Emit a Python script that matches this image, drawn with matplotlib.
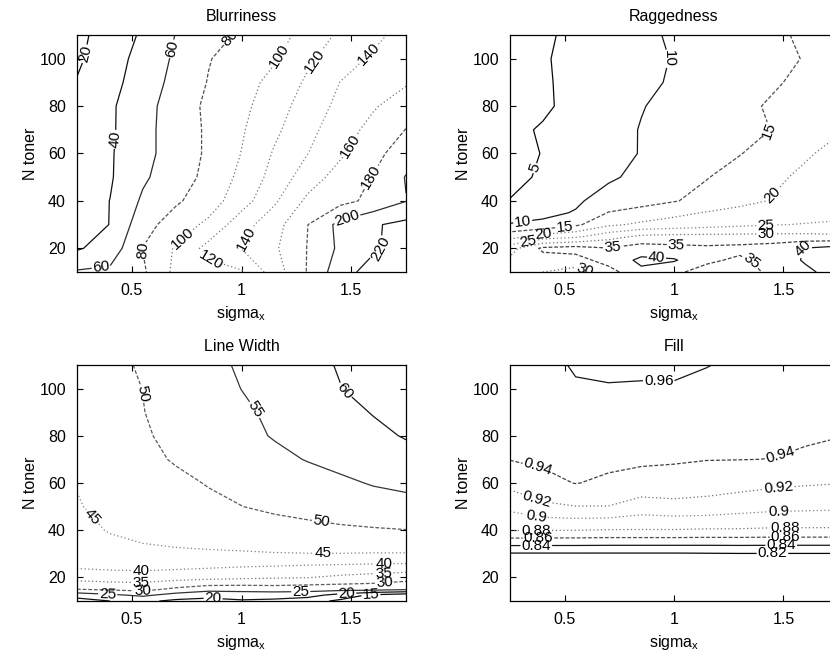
import numpy as np
import matplotlib
matplotlib.use('Agg')
import matplotlib.pyplot as plt

plt.rcParams['font.family'] = ['Liberation Sans', 'DejaVu Sans']
plt.rcParams['mathtext.default'] = 'regular'

# grid of the simulation: sigma_x columns, N toner rows
sigma_x = [0.25, 0.40, 0.55, 0.70, 0.85, 1.00, 1.15, 1.30, 1.45, 1.60, 1.75]

n_blur = [10, 20, 30, 40, 50, 60, 70, 80, 90, 100, 110]
blurriness = [
    [62, 64, 77, 105, 112, 118, 150, 181, 212, 228, 235],
    [38, 48, 80.5, 102, 127, 140.5, 157, 180.5, 204, 217, 230],
    [32, 40.3, 72, 90, 104, 132, 152, 179.5, 206, 218, 225],
    [30, 40.2, 63, 77, 91, 111, 137, 164, 174, 185, 199.5],
    [28, 38, 57, 71, 85, 105, 127, 150, 168, 181, 201],
    [27, 38, 54, 69, 83, 100.5, 122, 139.5, 157, 173, 192],
    [26, 37, 54, 69, 83, 98, 116, 134, 151, 166, 180.5],
    [24, 37, 53, 69, 84, 95, 111, 129, 145, 158, 170],
    [21, 34, 49, 66, 81, 92, 106, 123, 140.3, 149, 158],
    [17, 31, 47, 63, 79, 89, 98, 116, 131, 143, 153],
    [16, 27, 43, 60.5, 72, 83, 93, 106, 124, 135, 147],
]
blur_levels = [20, 40, 60, 80, 100, 120, 140, 160, 180, 200, 220]

n_rag = [10, 15, 20, 25, 30, 35, 40, 50, 60, 70, 80, 90, 100, 110]
raggedness = [
    [32, 30, 28, 33, 39, 36, 33, 33, 36, 39, 42],
    [31, 33, 33, 37, 41, 40.5, 36, 34, 37, 40.5, 43],
    [28, 36, 37, 35.2, 37.5, 36.5, 36, 36.5, 37.5, 40.2, 42],
    [18, 22, 24, 28, 31, 31.5, 31.5, 31.5, 31.5, 31.5, 31],
    [10.3, 11, 14, 19, 21, 22, 23, 24, 24.8, 25.2, 25.5],
    [7.5, 8.9, 10.3, 15.2, 16.5, 18.8, 20.3, 21.5, 22.5, 23.3, 24],
    [5.1, 7.1, 9.3, 12, 13.5, 14.7, 16.6, 18.6, 20.3, 21.5, 23],
    [4.2, 5.4, 7.4, 9.3, 11.2, 13, 14.8, 16.9, 19, 21, 23],
    [4, 5.1, 6.8, 8.5, 10.2, 12, 13.2, 14.8, 17, 19.4, 21.5],
    [4, 5.4, 7, 8.4, 10.2, 11.3, 12.5, 13.8, 15.1, 17.5, 19.5],
    [3.5, 4.3, 6.3, 8, 9.8, 11.2, 12.6, 14, 15.5, 17, 18.5],
    [3.5, 4.5, 6.1, 7.5, 9, 10.5, 11.8, 13.2, 14.5, 16, 17.5],
    [3.5, 4.6, 6.2, 7.6, 8.9, 10.2, 11.4, 12.7, 13.9, 15.2, 17],
    [3, 4.3, 6, 7.5, 9, 10.6, 12, 13, 14.3, 15.6, 17],
]
rag_levels = [5, 10, 15, 20, 25, 30, 35, 40]

n_width = [10, 12.5, 15, 20, 25, 30, 40, 50, 60, 70, 80, 90, 100, 110]
line_width = [
    [18, 20, 21, 19, 19, 19.5, 19, 17, 14, 11, 10],
    [22, 24, 26, 23, 21, 22, 22, 22, 18, 14, 12],
    [30, 31, 31.6, 29, 27, 27, 27.5, 27, 27, 27, 26],
    [37, 37.5, 37.6, 37, 36.5, 36, 35.5, 35.2, 34, 33, 32],
    [41, 41.5, 41.8, 41.5, 41, 40.5, 40.2, 39.8, 39.5, 39.2, 39],
    [43, 43.8, 44.2, 44.4, 44.5, 44.6, 44.8, 44.9, 44.9, 44.8, 44.8],
    [44, 45.2, 46, 46.6, 47.2, 47.8, 48.3, 48.8, 49.3, 49.6, 49.9],
    [44.7, 46.2, 47.3, 48.3, 49.2, 49.95, 50.8, 51.5, 52.2, 53, 53.5],
    [45.2, 46.7, 48, 49.2, 50.2, 51.1, 52.1, 53.1, 54.2, 55.3, 56],
    [46.3, 47.8, 49.1, 50.3, 51.6, 52.7, 53.9, 55.2, 56.3, 57.4, 58.5],
    [46.5, 48, 49.5, 51.1, 52.4, 53.8, 55.3, 56.5, 57.7, 59, 60.3],
    [46.5, 48.3, 49.9, 51.4, 52.8, 54.3, 55.8, 57.2, 58.7, 60.2, 61.5],
    [46.5, 48.3, 50.05, 51.6, 53.3, 55.05, 56.6, 58.2, 59.9, 61.3, 62.5],
    [47, 48.8, 50.5, 52.2, 53.9, 55.5, 57.2, 58.8, 60.3, 61.5, 62.5],
]
width_levels = [15, 20, 25, 30, 35, 40, 45, 50, 55, 60]

n_fill = [10, 20, 30, 40, 50, 60, 70, 80, 90, 100, 110]
fill = [
    [0.800, 0.800, 0.801, 0.801, 0.802, 0.802, 0.803, 0.803, 0.804, 0.804, 0.804],
    [0.802, 0.802, 0.803, 0.803, 0.804, 0.804, 0.805, 0.806, 0.806, 0.806, 0.806],
    [0.818, 0.818, 0.818, 0.818, 0.818, 0.818, 0.8185, 0.819, 0.819, 0.819, 0.819],
    [0.881, 0.8805, 0.8802, 0.879, 0.879, 0.879, 0.878, 0.878, 0.877, 0.877, 0.877],
    [0.905, 0.916, 0.9195, 0.9195, 0.911, 0.914, 0.913, 0.909, 0.906, 0.905, 0.904],
    [0.926, 0.935, 0.9405, 0.937, 0.933, 0.932, 0.929, 0.927, 0.924, 0.922, 0.9205],
    [0.9405, 0.943, 0.944, 0.944, 0.943, 0.942, 0.9405, 0.9402, 0.9398, 0.9375, 0.935],
    [0.946, 0.947, 0.948, 0.948, 0.948, 0.947, 0.946, 0.945, 0.944, 0.942, 0.9405],
    [0.949, 0.950, 0.952, 0.953, 0.953, 0.952, 0.951, 0.950, 0.949, 0.948, 0.947],
    [0.952, 0.954, 0.959, 0.959, 0.9585, 0.9585, 0.956, 0.954, 0.953, 0.952, 0.952],
    [0.955, 0.957, 0.961, 0.963, 0.963, 0.963, 0.9605, 0.957, 0.956, 0.955, 0.955],
]
fill_levels = [0.82, 0.84, 0.86, 0.88, 0.90, 0.92, 0.94, 0.96]

# where clabel put the numbers in the original figure (sigma_x, N toner)
blur_label_at = [(0.34, 101), (0.69, 104), (0.97, 107), (1.21, 99), (1.33, 99),
                 (1.58, 102), (0.42, 66), (1.50, 63), (1.59, 50), (1.48, 33),
                 (1.63, 20), (0.36, 12), (0.55, 19), (0.74, 23), (0.86, 15),
                 (1.04, 23)]
rag_label_at = [(0.39, 53), (0.98, 100), (1.45, 68), (1.48, 40), (0.31, 30),
                (0.40, 26.5), (0.50, 29), (0.33, 23.5), (0.72, 19), (0.60, 13),
                (0.92, 16), (1.01, 21), (1.42, 28), (1.42, 24.5), (1.36, 15),
                (1.58, 20)]
width_label_at = [(0.55, 98), (1.06, 91), (1.47, 99), (0.30, 44), (1.36, 41.5),
                  (1.37, 30), (0.54, 22), (0.54, 17.5), (0.55, 14), (0.39, 12.6),
                  (0.87, 11), (1.27, 14), (1.48, 12.6), (1.59, 12),
                  (1.65, 26.7), (1.65, 22.5), (1.65, 19)]
fill_label_at = [(0.93, 104), (0.37, 64), (0.37, 52), (0.37, 46), (0.37, 40),
                 (0.38, 36.2), (0.37, 33.2), (1.49, 71), (1.48, 57), (1.48, 47),
                 (1.51, 40.5), (1.51, 36.3), (1.49, 33.3), (1.45, 30.3)]


def level_styles(levels):
    # jet colours printed in grey: dark ends solid, light middle dotted
    jet = plt.get_cmap('jet')
    cols, styles = [], []
    for t in np.linspace(0, 1, len(levels)):
        r, g, b, _ = jet(t)
        lum = 0.299 * r + 0.587 * g + 0.114 * b
        if lum < 0.35:
            styles.append('solid')
        elif lum < 0.65:
            styles.append((0, (3, 1.5)))
        else:
            styles.append((0, (1, 2)))
        cols.append(str(round(min(lum * 0.6, 0.55), 2)))
    return cols, styles


def panel(ax, y, z, levels, title, label_at):
    cols, styles = level_styles(levels)
    cs = ax.contour(sigma_x, y, z, levels=levels, colors=cols,
                    linestyles=styles, linewidths=0.9)
    ax.clabel(cs, fmt='%g', fontsize=11, colors='k', inline=True,
              inline_spacing=1, manual=label_at)
    ax.set_xlim(0.25, 1.75)
    ax.set_ylim(10, 110)
    ax.set_xticks([0.5, 1, 1.5])
    ax.set_xticklabels(['0.5', '1', '1.5'])
    ax.set_yticks([20, 40, 60, 80, 100])
    ax.tick_params(direction='in', top=True, right=True, length=4,
                   labelsize=11.5, pad=8)
    for s in ax.spines.values():
        s.set_linewidth(0.9)
    ax.set_title(title, fontsize=11.5, pad=10)
    ax.set_xlabel('sigma$_x$', fontsize=11.5, labelpad=4)
    ax.set_ylabel('N toner', fontsize=11.5, labelpad=1)


fig = plt.figure(figsize=(8.3, 6.55), dpi=100)
ax1 = fig.add_axes([0.0928, 0.5847, 0.3964, 0.3619])
ax2 = fig.add_axes([0.6145, 0.5847, 0.3952, 0.3619])
ax3 = fig.add_axes([0.0928, 0.0824, 0.3964, 0.3603])
ax4 = fig.add_axes([0.6145, 0.0824, 0.3952, 0.3603])

panel(ax1, n_blur, blurriness, blur_levels, 'Blurriness', blur_label_at)
panel(ax2, n_rag, raggedness, rag_levels, 'Raggedness', rag_label_at)
panel(ax3, n_width, line_width, width_levels, 'Line Width', width_label_at)
panel(ax4, n_fill, fill, fill_levels, 'Fill', fill_label_at)

fig.savefig('out.png', dpi=100)
